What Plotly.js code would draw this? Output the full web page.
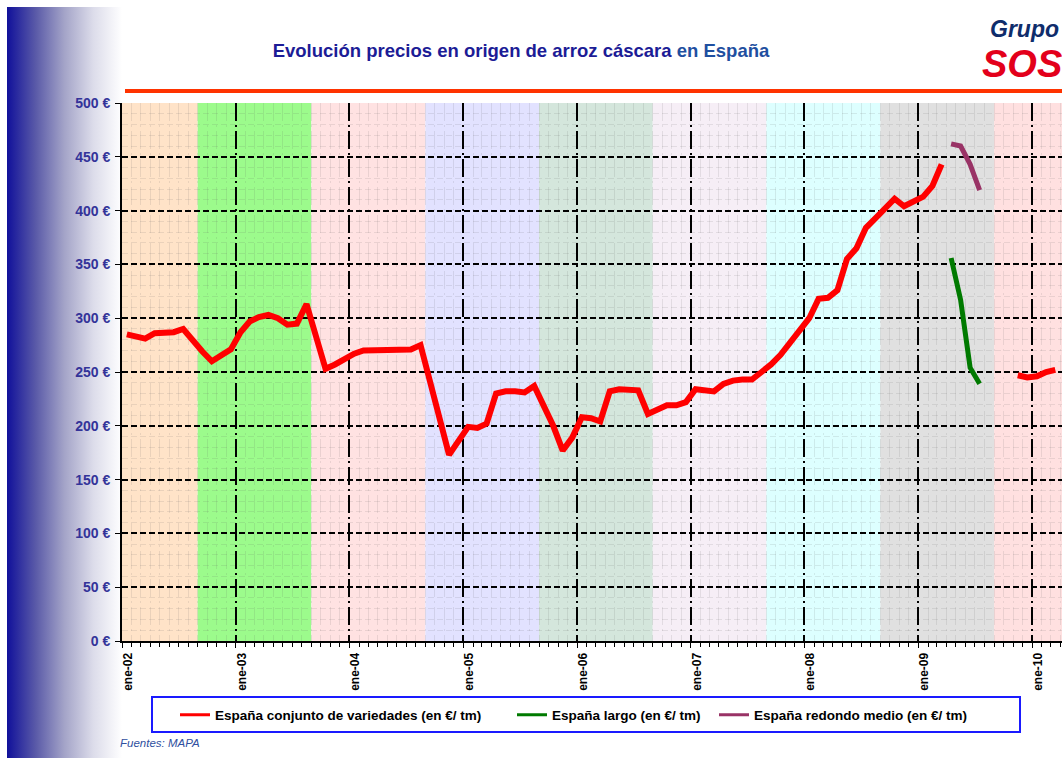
<!DOCTYPE html>
<html><head><meta charset="utf-8">
<script src="https://cdn.plot.ly/plotly-3.0.1.min.js"></script>
<style>
html,body{margin:0;padding:0;background:#fff;}
#grad{position:absolute;left:7px;top:7px;width:115px;height:751px;background:linear-gradient(to right,#10109a 0%,#5a5aa8 25%,#a4a4c8 50%,#dcdcea 75%,#ffffff 100%);}
#chart{position:absolute;left:0;top:0;width:1062px;height:758px;}
</style></head><body>
<div id="grad"></div><div id="chart"></div>
<script>
const months = [
"2002-01","2002-02","2002-03","2002-04","2002-05","2002-06","2002-07","2002-08","2002-09","2002-10","2002-11","2002-12",
"2003-01","2003-02","2003-03","2003-04","2003-05","2003-06","2003-07","2003-08","2003-09","2003-10","2003-11","2003-12",
"2004-01","2004-02","2004-03","2004-04","2004-05","2004-06","2004-07","2004-08","2004-09","2004-10","2004-11","2004-12",
"2005-01","2005-02","2005-03","2005-04","2005-05","2005-06","2005-07","2005-08","2005-09","2005-10","2005-11","2005-12",
"2006-01","2006-02","2006-03","2006-04","2006-05","2006-06","2006-07","2006-08","2006-09","2006-10","2006-11","2006-12",
"2007-01","2007-02","2007-03","2007-04","2007-05","2007-06","2007-07","2007-08","2007-09","2007-10","2007-11","2007-12",
"2008-01","2008-02","2008-03","2008-04","2008-05","2008-06","2008-07","2008-08","2008-09","2008-10","2008-11","2008-12",
"2009-01","2009-02","2009-03","2009-04","2009-05","2009-06","2009-07","2009-08","2009-09","2009-10","2009-11","2009-12",
"2010-01","2010-02","2010-03"];

const conjunto = [
285,283,281,286,286,287,290,279,269,260,266,271,
287,297,301,303,300,294,295,313,283,253,257,262,
267,270,270,270,271,271,271,275,241,207,173,186,
199,198,202,230,232,232,231,237,220,200,177,189,
208,207,204,232,234,234,233,211,215,219,219,222,
234,233,232,239,242,243,243,250,257,266,277,288,
300,318,319,326,355,365,384,393,402,411,404,409,
413,423,443,null,null,null,null,null,null,null,247,245,
246,250,252];

const largoMonths = ["2009-04","2009-05","2009-06","2009-07"];
const largo = [356,317,254,239];
const redondoMonths = ["2009-04","2009-05","2009-06","2009-07"];
const redondo = [462,460,443,419];

const seriesNames = ["España conjunto de variedades (en €/ tm)","España largo (en €/ tm)","España redondo medio (en €/ tm)"];
const seriesColors = ["#ff0000","#007a00","#993366"];

const bandStarts = ["2002-01-01","2002-09-01","2003-09-01","2004-09-01","2005-09-01","2006-09-01","2007-09-01","2008-09-01","2009-09-01"];
const bandEnds   = ["2002-09-01","2003-09-01","2004-09-01","2005-09-01","2006-09-01","2007-09-01","2008-09-01","2009-09-01","2010-06-01"];
const bandColors = ["#ffe3c8","#9cfb8c","#ffe2e2","#e2e2ff","#d4e6dc","#f6eef6","#ddffff","#e0e0e0","#ffe0e0"];

const xTickVals = ["2002-01-01","2003-01-01","2004-01-01","2005-01-01","2006-01-01","2007-01-01","2008-01-01","2009-01-01","2010-01-01"];
const xTickText = ["ene-02","ene-03","ene-04","ene-05","ene-06","ene-07","ene-08","ene-09","ene-10"];
const yTickVals = [0,50,100,150,200,250,300,350,400,450,500];
const yTickText = ["0 €","50 €","100 €","150 €","200 €","250 €","300 €","350 €","400 €","450 €","500 €"];

const PL=122, PT=103, PW=940, PH=538;
const px = X => (X-PL)/PW;
const py = Y => (PT+PH-Y)/PH;

const shapes = bandStarts.map((s,i)=>({type:'rect',xref:'x',yref:'paper',x0:s,x1:bandEnds[i],y0:0,y1:1,fillcolor:bandColors[i],line:{width:0},layer:'below'}));
shapes.push({type:'line',xref:'paper',yref:'paper',x0:px(125),x1:px(1062),y0:py(91),y1:py(91),line:{color:'#ff3300',width:4}});
shapes.push({type:'rect',xref:'paper',yref:'paper',x0:px(152),x1:px(1020),y0:py(732),y1:py(697),line:{color:'#1a1aff',width:2},fillcolor:'rgba(0,0,0,0)'});

const per = {xperiod:'M1', xperiodalignment:'middle'};
const legIds = ['legend','legend2','legend3'];
const traces = [
 Object.assign({x:months,y:conjunto,type:'scatter',mode:'lines',name:seriesNames[0],line:{color:seriesColors[0],width:6},connectgaps:false,showlegend:false},per),
 Object.assign({x:largoMonths,y:largo,type:'scatter',mode:'lines',name:seriesNames[1],line:{color:seriesColors[1],width:5},showlegend:false},per),
 Object.assign({x:redondoMonths,y:redondo,type:'scatter',mode:'lines',name:seriesNames[2],line:{color:seriesColors[2],width:5},showlegend:false},per)
];
seriesNames.forEach((n,i)=>traces.push({x:[null],y:[null],type:'scatter',mode:'lines',name:n,line:{color:seriesColors[i],width:3},legend:legIds[i],showlegend:true,hoverinfo:'skip'}));

const legFont = {family:'Liberation Sans, Arial, sans-serif',size:13.5,color:'#000',weight:'bold'};
const legBase = {orientation:'h',xanchor:'left',yanchor:'middle',y:py(715),bgcolor:'rgba(0,0,0,0)',borderwidth:0,font:legFont,itemwidth:30};

const layout = {
 width:1062,height:758,
 margin:{l:PL,r:0,t:PT,b:758-PT-PH,pad:0},
 paper_bgcolor:'rgba(0,0,0,0)',plot_bgcolor:'#ffffff',
 showlegend:true,
 title:{text:'<span style="color:#1c1c96">Evolución precios en origen de arroz cáscara</span> <span style="color:#1f4fa0">en España</span>',
   font:{family:'Liberation Sans Narrow, Arial Narrow, Liberation Sans, sans-serif',size:18.5,weight:'bold'},
   x:521/1062,xanchor:'center',y:1-51/758,yanchor:'middle'},
 xaxis:{type:'date',range:['2002-01-01','2010-04-07'],tickmode:'array',tickvals:xTickVals,ticktext:xTickText,
   tickangle:-90,tickfont:{family:'Liberation Sans, Arial, sans-serif',size:12,color:'#000',weight:'bold'},
   ticklabelshift:6,ticks:'outside',ticklen:5,tickcolor:'#000',tickwidth:1,
   showgrid:true,gridcolor:'#000',gridwidth:2,griddash:'18px,4px,2px,4px',
   showline:true,linecolor:'#000',linewidth:2,zeroline:false,
   minor:{dtick:'M1',tick0:'2002-01-01',showgrid:true,gridcolor:'rgba(90,90,90,0.13)',gridwidth:1,ticks:'outside',ticklen:4,tickcolor:'#000'}},
 yaxis:{range:[0,500],tickmode:'array',tickvals:yTickVals,ticktext:yTickText,
   tickfont:{family:'Liberation Sans, Arial, sans-serif',size:14,color:'#333399',weight:'bold'},
   ticks:'outside',ticklen:5,tickcolor:'#000',ticklabelstandoff:2,
   showgrid:true,gridcolor:'#000',gridwidth:2,griddash:'6px,3px',
   showline:true,linecolor:'#000',linewidth:2,zeroline:false,
   minor:{dtick:10,showgrid:true,gridcolor:'rgba(90,90,90,0.13)',gridwidth:1}},
 legend:Object.assign({},legBase,{x:px(175)}),
 legend2:Object.assign({},legBase,{x:px(512)}),
 legend3:Object.assign({},legBase,{x:px(714)}),
 shapes:shapes,
 annotations:[
  {xref:'paper',yref:'paper',x:px(1061),y:py(29),xanchor:'right',yanchor:'middle',showarrow:false,text:'<b><i>Grupo</i></b>',font:{family:'Liberation Sans, Arial, sans-serif',size:23,color:'#0f2d6b'}},
  {xref:'paper',yref:'paper',x:px(1064),y:py(64),xanchor:'right',yanchor:'middle',showarrow:false,text:'<b><i>SOS</i></b>',font:{family:'Liberation Sans, Arial, sans-serif',size:38,color:'#e3001b'}},
  {xref:'paper',yref:'paper',x:px(118),y:py(743),xanchor:'left',yanchor:'middle',showarrow:false,text:'<i>Fuentes: MAPA</i>',font:{family:'Liberation Sans, Arial, sans-serif',size:11.5,color:'#3050a0'}}
 ]
};
Plotly.newPlot('chart',traces,layout,{displayModeBar:false,responsive:false});
</script>
</body></html>
